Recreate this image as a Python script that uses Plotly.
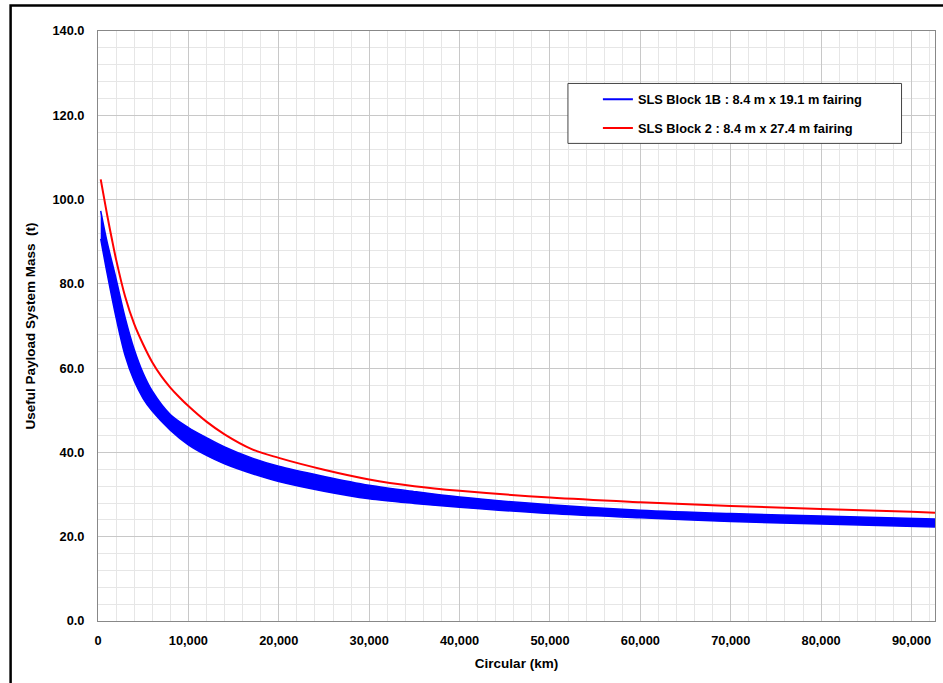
import plotly.graph_objects as go

# ---- data ----
red_x = [300, 1000, 1500, 2000, 3000, 4000, 5000, 6000, 7000, 8000, 9000, 10000,
         12000, 14000, 17000, 20000, 25000, 30000, 35000, 40000, 50000, 60000,
         70000, 80000, 90000, 92600]
red_y = [104.8, 96.5, 91.0, 85.8, 77.0, 70.5, 65.6, 61.4, 58.1, 55.4, 53.1, 51.0,
         47.3, 44.3, 40.8, 38.7, 35.9, 33.6, 32.0, 30.9, 29.3, 28.2,
         27.3, 26.6, 25.9, 25.7]

blue_x = [300, 1000, 2000, 3000, 4000, 5000, 6000, 8000, 10000, 12000, 14000,
          17000, 20000, 25000, 30000, 35000, 40000, 50000, 60000, 70000, 80000, 92600]
blue_upper = [97.3, 90.0, 81.2, 72.0, 64.5, 58.8, 54.6, 49.0, 45.9, 43.5, 41.3,
              38.7, 36.7, 34.3, 32.2, 30.7, 29.4, 27.6, 26.3, 25.5, 24.9, 24.2]
blue_lower = [90.7, 82.6, 72.0, 63.0, 57.0, 52.8, 49.8, 45.3, 41.8, 39.3, 37.3,
              35.0, 33.1, 30.8, 29.0, 27.9, 27.0, 25.5, 24.5, 23.6, 23.0, 22.3]

series_names = ["SLS Block 1B : 8.4 m x 19.1 m fairing",
                "SLS Block 2 : 8.4 m x 27.4 m fairing"]

x_title = "Circular (km)"
y_title = "Useful Payload System Mass  (t)"

BLUE = "#0000ff"
RED = "#ff0000"
FONT = "Liberation Sans, Arial, sans-serif"
TICK_SIZE = 12.8
TITLE_SIZE = 13.5

fig = go.Figure()

# blue band (bundle of curves)
fig.add_trace(go.Scatter(x=blue_x, y=blue_lower, mode="lines",
                         line=dict(color=BLUE, width=1.5, shape="spline", smoothing=0.9),
                         showlegend=False, hoverinfo="skip"))
fig.add_trace(go.Scatter(x=blue_x, y=blue_upper, mode="lines", fill="tonexty",
                         fillcolor=BLUE,
                         line=dict(color=BLUE, width=1.5, shape="spline", smoothing=0.9),
                         showlegend=False, hoverinfo="skip"))
# legend entries
fig.add_trace(go.Scatter(x=[None], y=[None], mode="lines", name=series_names[0],
                         line=dict(color=BLUE, width=2.2), legendgroup="a"))
fig.add_trace(go.Scatter(x=red_x, y=red_y, mode="lines", name=series_names[1],
                         line=dict(color=RED, width=2, shape="spline", smoothing=1.0),
                         legendgroup="b"))

L, R, T, B = 97.5, 7.5, 30.5, 62
W, H = 943, 683
pw, ph = W - L - R, H - T - B

def px_x(p):
    return (p - L) / pw

def px_y(p):
    return (H - B - p) / ph

fig.update_layout(
    width=W, height=H,
    margin=dict(l=L, r=R, t=T, b=B, autoexpand=False),
    paper_bgcolor="white", plot_bgcolor="white",
    font=dict(family=FONT, size=12, color="black"),
    legend=dict(x=px_x(598), y=px_y(84), xanchor="left", yanchor="top",
                bgcolor="rgba(0,0,0,0)", borderwidth=0,
                font=dict(family=FONT, size=TICK_SIZE, color="black", weight="bold"),
                traceorder="grouped", tracegroupgap=9),
    shapes=[
        dict(type="rect", xref="paper", yref="paper",
             x0=px_x(568), x1=px_x(902), y0=px_y(143), y1=px_y(83),
             line=dict(color="#444444", width=1), fillcolor="white", layer="above"),
        dict(type="rect", xref="paper", yref="paper",
             x0=px_x(10), x1=px_x(970), y0=px_y(710), y1=px_y(5),
             line=dict(color="black", width=2.5), fillcolor="rgba(0,0,0,0)"),
    ],
)

fig.update_xaxes(
    range=[0, 92600], tickmode="linear", tick0=0, dtick=10000, tickformat=",d",
    showgrid=True, gridcolor="#c8c8c8", gridwidth=1,
    minor=dict(dtick=2000, showgrid=True, gridcolor="#e6e6e6", gridwidth=1),
    showline=True, linecolor="#888888", linewidth=1, mirror=True,
    ticks="", ticklabelstandoff=8, zeroline=False, automargin=False,
    tickfont=dict(family=FONT, size=TICK_SIZE, weight="bold"),
    title=dict(text=x_title, standoff=11,
               font=dict(family=FONT, size=TITLE_SIZE, weight="bold")),
)
fig.update_yaxes(
    range=[0, 140], tickmode="linear", tick0=0, dtick=20, tickformat=".1f",
    showgrid=True, gridcolor="#c8c8c8", gridwidth=1,
    minor=dict(dtick=4, showgrid=True, gridcolor="#e6e6e6", gridwidth=1),
    showline=True, linecolor="#888888", linewidth=1, mirror=True,
    ticks="", ticklabelstandoff=10, zeroline=False, automargin=False,
    tickfont=dict(family=FONT, size=TICK_SIZE, weight="bold"),
    title=dict(text=y_title, standoff=13,
               font=dict(family=FONT, size=TITLE_SIZE, weight="bold")),
)

fig.write_html("out.html",
               config={"displayModeBar": False},
               post_script="document.body.style.margin='0';document.body.style.overflow='hidden';")
